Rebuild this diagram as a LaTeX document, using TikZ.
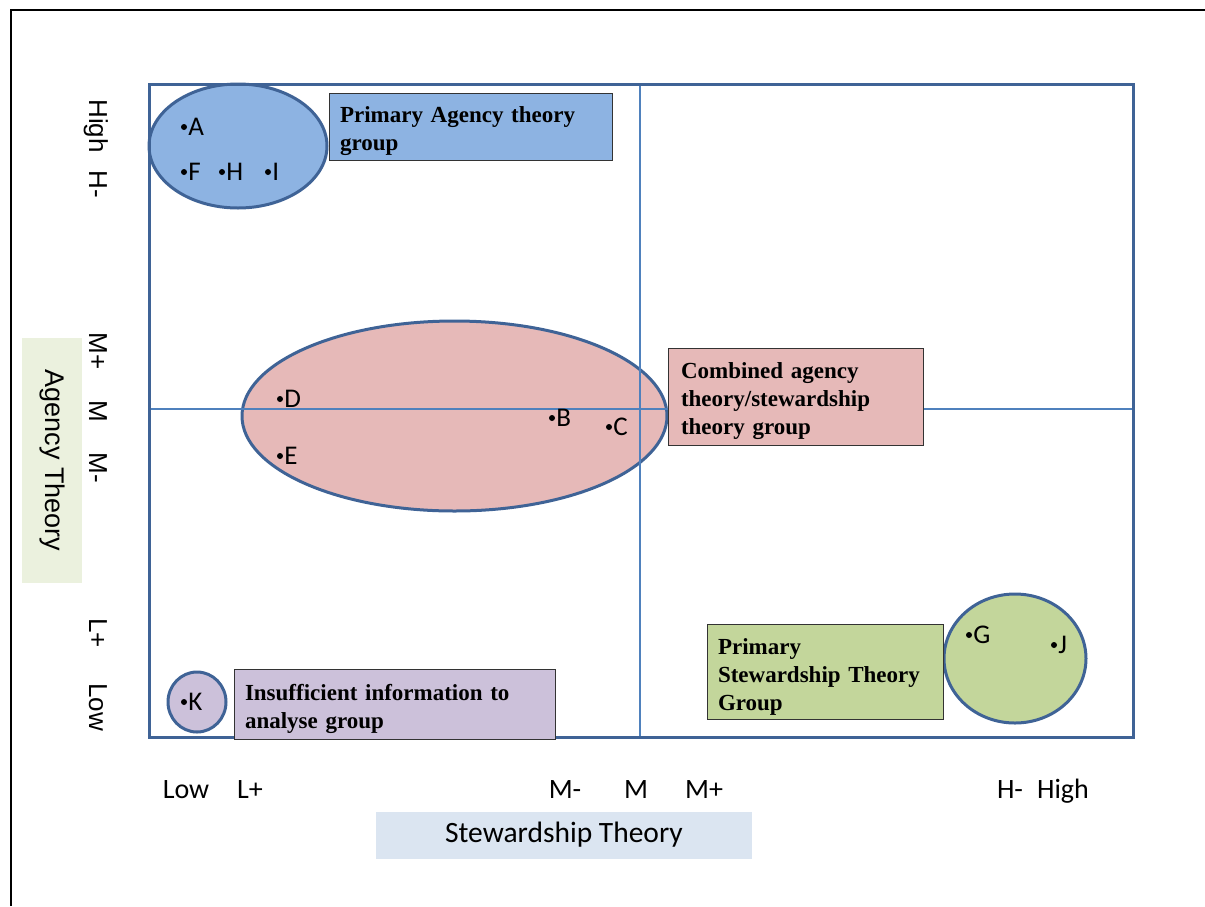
\documentclass[tikz,border=0pt]{standalone}
\usepackage{fontspec}
\setmainfont{Liberation Serif}
\newfontfamily\calibrifont{Carlito}
\newfontfamily\arialfont{Liberation Sans}
\usetikzlibrary{shapes.geometric}

\definecolor{frameblue}{HTML}{3F6396}
\definecolor{crossblue}{HTML}{4F81BD}
\definecolor{agencyfill}{HTML}{8DB3E2}
\definecolor{combinedfill}{HTML}{E6B9B8}
\definecolor{stewardfill}{HTML}{C3D69B}
\definecolor{insuffill}{HTML}{CCC1DA}
\definecolor{agencyaxis}{HTML}{EBF1DE}
\definecolor{stewardaxis}{HTML}{DBE5F1}

\tikzset{
  group/.style={ellipse, draw=frameblue, line width=3pt, inner sep=0pt},
  crossline/.style={draw=crossblue, line width=1.2pt},
  groupbox/.style={rectangle, draw=black!80, line width=1pt, align=left,
    inner xsep=11pt, inner ysep=0pt,
    font=\fontsize{23}{28}\selectfont\bfseries,
    execute at begin node={\rule{0pt}{26pt}}},
  ptlabel/.style={font=\calibrifont\fontsize{27}{30}\selectfont, inner sep=1pt},
  pt/.style={circle, fill=black, inner sep=0pt, minimum size=6pt,
    label={[ptlabel, label distance=0pt]east:#1}},
  xlab/.style={font=\calibrifont\fontsize{28}{32}\selectfont, anchor=base, inner sep=0pt},
  ylab/.style={font=\arialfont\fontsize{26}{30}\selectfont, anchor=base, rotate=-90, inner sep=0pt},
}

\begin{document}
\begin{tikzpicture}[x=1pt, y=-1pt]
  \useasboundingbox (0,0) rectangle (1205,906);

  % page frame (top and left edges)
  \draw[line width=1.6pt] (11,906) -- (11,10) -- (1205,10);

  % group ellipses
  \node[group, fill=agencyfill, minimum width=178pt, minimum height=124pt] (gAgency) at (238,146) {};
  \node[group, fill=combinedfill, minimum width=425pt, minimum height=190pt] (gCombined) at (454.5,416) {};
  \node[group, fill=stewardfill, minimum width=142pt, minimum height=129pt] (gSteward) at (1015,658.5) {};
  \node[group, fill=insuffill, minimum width=58pt, minimum height=60pt] (gInsuf) at (197,702) {};

  % medium lines of both scales
  \draw[crossline] (640,84) -- (640,737);
  \draw[crossline] (149,409) -- (1133,409);

  % plot area
  \node[rectangle, draw=frameblue, line width=3pt, minimum width=984pt, minimum height=653pt, inner sep=0pt] (plot) at (641,410.5) {};

  % group captions
  \node[groupbox, fill=agencyfill, text width=261pt, minimum height=67pt] (capAgency) at (470.5,126.5)
    {Primary Agency theory\\group};
  \node[groupbox, fill=combinedfill, text width=229pt, inner xsep=13pt, minimum height=97pt] (capCombined) at (795.5,396.5)
    {Combined agency\\theory/stewardship\\theory group};
  \node[groupbox, fill=stewardfill, text width=214pt, minimum height=95pt] (capSteward) at (825,671.5)
    {Primary\\Stewardship Theory\\Group};
  \node[groupbox, fill=insuffill, text width=299pt, minimum height=70pt] (capInsuf) at (394.5,704)
    {Insufficient information to\\analyse group};

  % cases
  \node[pt=A] (A) at (184,127) {};
  \node[pt=F] (F) at (184,172) {};
  \node[pt=H] (H) at (222,172) {};
  \node[pt=I] (I) at (268,172) {};
  \node[pt=D] (D) at (280,399) {};
  \node[pt=E] (E) at (280,456) {};
  \node[pt=B] (B) at (552,418) {};
  \node[pt=C] (C) at (609,427) {};
  \node[pt=G] (G) at (969,635) {};
  \node[pt=J] (J) at (1054,645) {};
  \node[pt=K] (K) at (184,702) {};

  % stewardship scale
  \node[xlab] (xLow) at (186,798) {Low};
  \node[xlab] (xLp) at (250,798) {L+};
  \node[xlab] (xMm) at (565,798) {M-};
  \node[xlab] (xM) at (636,798) {M};
  \node[xlab] (xMp) at (704,798) {M+};
  \node[xlab] (xHm) at (1010,798) {H-};
  \node[xlab] (xHigh) at (1063,798) {High};
  \node[rectangle, fill=stewardaxis, minimum width=376pt, minimum height=47pt, inner sep=0pt,
        font=\calibrifont\fontsize{29.5}{33}\selectfont] (xTitle) at (564,835) {Stewardship Theory};

  % agency scale
  \node[ylab] (yHigh) at (89,126) {High};
  \node[ylab] (yHm) at (89,184) {H-};
  \node[ylab] (yMp) at (89,351) {M+};
  \node[ylab] (yM) at (89,411) {M};
  \node[ylab] (yMm) at (89,468) {M-};
  \node[ylab] (yLp) at (89,633) {L+};
  \node[ylab] (yLow) at (89,707) {Low};
  \node[rectangle, fill=agencyaxis, rotate=-90, minimum width=245pt, minimum height=60pt, inner sep=0pt,
        font=\arialfont\fontsize{27}{31}\selectfont] (yTitle) at (52,460.5) {Agency Theory};
\end{tikzpicture}
\end{document}
